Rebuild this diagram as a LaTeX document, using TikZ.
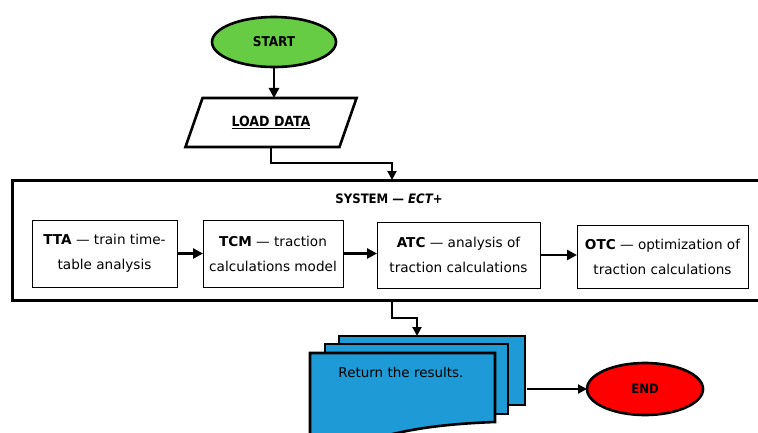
\documentclass[tikz,border=0pt]{standalone}
\usepackage{fontspec}
\setmainfont{DejaVu Sans}
\newfontfamily\condfont{DejaVu Sans Condensed}
\usetikzlibrary{arrows.meta,shapes.geometric}
\definecolor{startgreen}{RGB}{102,204,68}
\definecolor{docblue}{RGB}{30,155,215}
\definecolor{endred}{RGB}{255,0,0}
\begin{document}
\begin{tikzpicture}[x=1pt,y=-1pt,
  every node/.style={inner sep=0pt, outer sep=0pt},
  term/.style={ellipse, draw, line width=2.6pt, font=\condfont\fontsize{13.5}{15}\selectfont\bfseries},
  procbox/.style={draw, line width=1pt, align=center, font=\fontsize{13.6}{25}\selectfont},
  thickarrow/.style={line width=2.8pt, -{Triangle[length=10pt,width=10pt]}},
  midarrow/.style={line width=2pt, -{Triangle[length=9pt,width=9pt]}},
  docshape/.style={draw, line width=2.6pt, fill=docblue, line join=miter}
]
\useasboundingbox (0,0) rectangle (758,432);
\begin{scope}
\clip (0,0) rectangle (758,432);

% START
\node[term, fill=startgreen, minimum width=124pt, minimum height=50pt] (start) at (274,42) {START};

% LOAD DATA
\node[trapezium, draw, line width=2.6pt, trapezium stretches=true,
      trapezium left angle=52, trapezium right angle=128,
      minimum width=172pt, minimum height=49pt,
      font=\condfont\fontsize{14}{16}\selectfont\bfseries] (load) at (271,122.5) {\underline{LOAD DATA}};

\draw[thickarrow] (start.south) -- (start.south |- load.north);

% SYSTEM box
\node[draw, line width=3pt, minimum width=756pt, minimum height=120pt] (sys) at (390,240) {};
\node[font=\condfont\fontsize{13}{15}\selectfont\bfseries] (systitle) at (389,199) {SYSTEM — \textit{ECT+}};
\coordinate (sysin) at (392,180);
\coordinate (sysout) at (392,300);

\draw[line width=2pt, -{Triangle[length=9pt,width=9pt]}] (load.south) |- (275,163) -| (sysin);

% inner boxes
\node[procbox, minimum width=145pt, minimum height=67pt] (tta) at (104.5,253.5) {\textbf{TTA} — train time-\\table analysis};
\node[procbox, minimum width=140pt, minimum height=67pt] (tcm) at (273,253.5) {\textbf{TCM} — traction\\calculations model};
\node[procbox, minimum width=163pt, minimum height=66pt] (atc) at (458.5,255) {\textbf{ATC} — analysis of\\traction calculations};
\node[procbox, minimum width=171pt, minimum height=63pt] (otc) at (662.5,256.5) {\textbf{OTC} — optimization of\\traction calculations};

\draw[thickarrow] (tta.east) -- (tta.east -| tcm.west);
\draw[thickarrow] (tcm.east) -- (tcm.east -| atc.west);
\draw[thickarrow] (atc.east) -- (atc.east -| otc.west);

% documents
\draw[docshape] (339,336) rectangle (525,405);
\draw[docshape] (325,344) rectangle (508,414);
\draw[docshape] (310,353) -- (495,353) -- (495,422)
   .. controls (440,424) and (400,430) .. (365,442) -- (310,450) -- cycle;
\node[font=\fontsize{13.5}{15}\selectfont] (ret) at (401,372) {Return the results.};
\coordinate (docin) at (417,336);
\coordinate (docout) at (527,389);

\draw[line width=2pt, -{Triangle[length=9pt,width=9pt]}] (sysout) |- (417,318) -- (docin);

% END
\node[term, fill=endred, font=\condfont\fontsize{13}{15}\selectfont\bfseries, minimum width=116pt, minimum height=52pt] (end) at (645,389) {END};
\draw[midarrow] (docout) -- (end.west);
\end{scope}
\end{tikzpicture}
\end{document}
